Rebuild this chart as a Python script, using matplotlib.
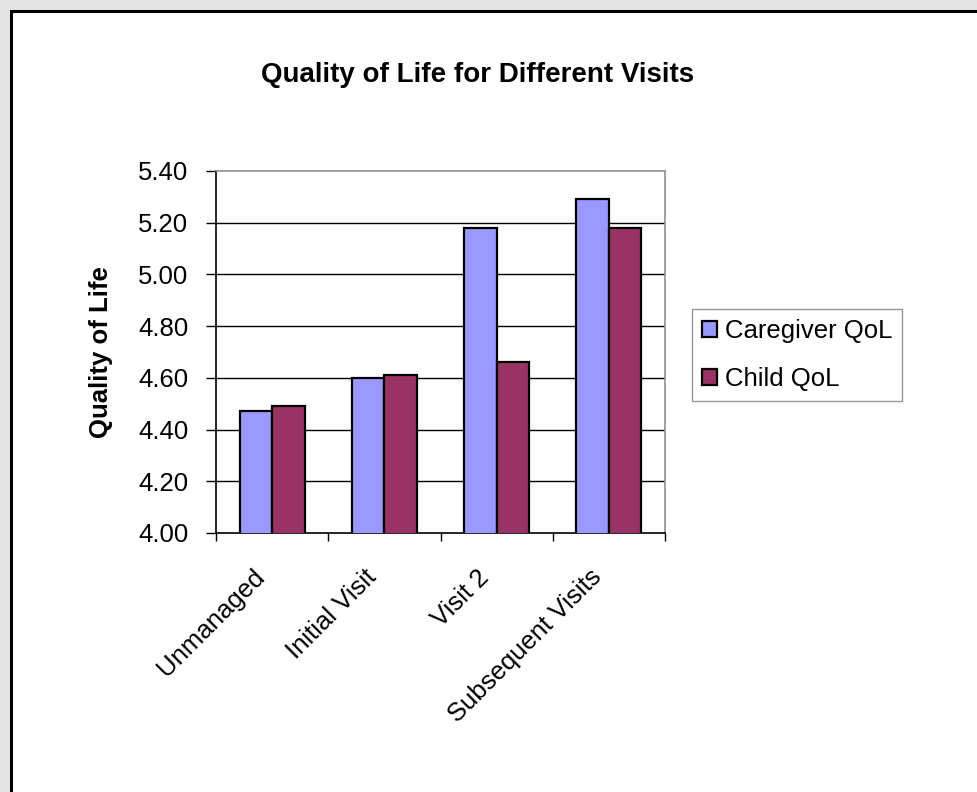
import matplotlib.pyplot as plt
from matplotlib.patches import Rectangle
from matplotlib.transforms import ScaledTranslation
import numpy as np

plt.rcParams['font.family'] = ['Liberation Sans', 'DejaVu Sans']

visits = ['Unmanaged', 'Initial Visit', 'Visit 2', 'Subsequent Visits']
caregiver_qol = [4.47, 4.60, 5.18, 5.29]
child_qol = [4.49, 4.61, 4.66, 5.18]
yticks = [4.00, 4.20, 4.40, 4.60, 4.80, 5.00, 5.20, 5.40]

W, H = 977, 792
fs = 18.5
fig = plt.figure(figsize=(W / 100, H / 100), dpi=100, facecolor='#e6e6e6')

# white chart area with black frame (only top/left edge visible)
fig.patches.append(Rectangle((11 / W, -0.1), 1.2, 1.1 - 11 / H, transform=fig.transFigure,
                             facecolor='white', edgecolor='black', linewidth=2.2, zorder=-1))

ax = fig.add_axes([216 / W, 1 - 533 / H, 449 / W, 362 / H])
ax.set_facecolor('white')

x = np.arange(len(visits))
w = 0.29
ax.bar(x - w / 2, caregiver_qol, w, color='#9999ff', edgecolor='black', linewidth=1.6,
       label='Caregiver QoL', zorder=3)
ax.bar(x + w / 2, child_qol, w, color='#993366', edgecolor='black', linewidth=1.6,
       label='Child QoL', zorder=3)

ax.set_ylim(4.0, 5.4)
ax.set_xlim(-0.5, len(visits) - 0.5)
ax.set_yticks(yticks)
ax.set_yticklabels(['%.2f' % v for v in yticks], fontsize=fs)
for v in yticks[1:-1]:
    ax.axhline(v, color='black', linewidth=1.0, zorder=1)

# category ticks sit between groups; rotated labels drawn as texts near group centres
ax.set_xticks(np.arange(len(visits) + 1) - 0.5)
ax.set_xticklabels([])
ax.tick_params(axis='x', which='major', direction='out', length=6, width=1, color='black')
ax.tick_params(axis='y', direction='out', length=7, width=1, color='black', pad=13)
lab_tr = ax.get_xaxis_transform() + ScaledTranslation(-0.20, -0.32, fig.dpi_scale_trans)
for xi, name in zip(x, visits):
    ax.text(xi, 0, name, transform=lab_tr, rotation=45, ha='right', va='top',
            rotation_mode='anchor', fontsize=fs)

ax.spines['left'].set_color('black')
ax.spines['bottom'].set_color('black')
ax.spines['top'].set_color('#909090')
ax.spines['right'].set_color('#909090')
for s in ax.spines.values():
    s.set_linewidth(1.2)

ax.set_ylabel('Quality of Life', fontsize=fs, fontweight='bold', labelpad=18)
fig.text(478 / W, 1 - 75 / H, 'Quality of Life for Different Visits', fontsize=20,
         fontweight='bold', ha='center', va='center')

leg = fig.legend(loc='upper left', bbox_to_anchor=(692 / W, 1 - 309 / H), borderaxespad=0,
                 fontsize=fs, frameon=True, fancybox=False, handlelength=0.6,
                 handleheight=0.6, handletextpad=0.3, labelspacing=0.95,
                 borderpad=0.38, edgecolor='#808080')
leg.get_frame().set_linewidth(1.0)

fig.savefig('out.png', dpi=100, facecolor=fig.get_facecolor())
